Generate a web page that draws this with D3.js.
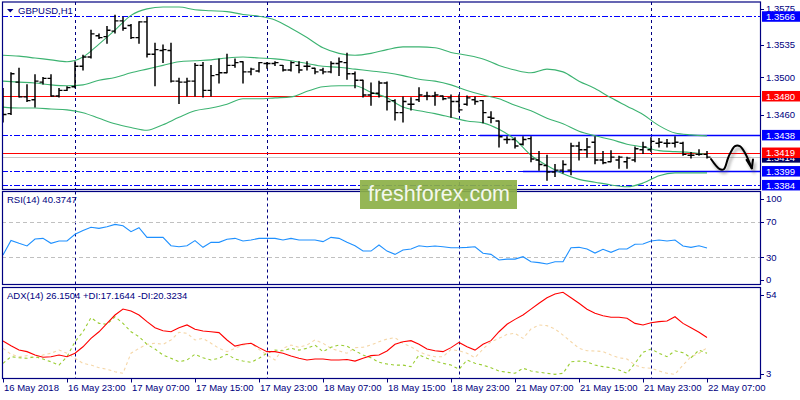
<!DOCTYPE html>
<html>
<head>
<meta charset="utf-8">
<script src="https://cdn.jsdelivr.net/npm/d3@7"></script>
<style>
  body { margin: 0; background: #fff; }
  svg { display: block; }
</style>
</head>
<body>
<div id="chart"></div>
<script>
// ---- data ----
let symbolTitle = "GBPUSD,H1";

let open = [1.3470,1.3461,1.3495,1.3479,1.3476,1.3495,1.3499,1.3480,1.3486,1.3490,
  1.3512,1.3522,1.3545,1.3544,1.3550,1.3561,1.3556,1.3543,1.3560,1.3525,
  1.3529,1.3529,1.3496,1.3495,1.3496,1.3513,1.3486,1.3503,1.3505,1.3513,
  1.3517,1.3506,1.3507,1.3515,1.3515,1.3513,1.3508,1.3513,1.3512,1.3510,
  1.3508,1.3506,1.3515,1.3516,1.3504,1.3497,1.3481,1.3483,1.3494,1.3475,
  1.3462,1.3471,1.3476,1.3480,1.3480,1.3480,1.3478,1.3474,1.3471,1.3476,
  1.3475,1.3457,1.3453,1.3433,1.3433,1.3428,1.3434,1.3411,1.3405,1.3398,
  1.3400,1.3400,1.3426,1.3422,1.3430,1.3411,1.3409,1.3411,1.3409,1.3411,
  1.3422,1.3422,1.3429,1.3429,1.3429,1.3429,1.3416,1.3417,1.3417];
let high = [1.3488,1.3505,1.3510,1.3492,1.3503,1.3500,1.3503,1.3488,1.3490,1.3517,
  1.3524,1.3551,1.3547,1.3555,1.3567,1.3565,1.3557,1.3560,1.3565,1.3537,
  1.3535,1.3537,1.3499,1.3499,1.3515,1.3516,1.3513,1.3520,1.3525,1.3520,
  1.3517,1.3510,1.3516,1.3516,1.3517,1.3513,1.3517,1.3517,1.3517,1.3510,
  1.3510,1.3517,1.3521,1.3526,1.3506,1.3497,1.3494,1.3496,1.3495,1.3476,
  1.3479,1.3478,1.3489,1.3484,1.3484,1.3480,1.3481,1.3481,1.3480,1.3479,
  1.3475,1.3463,1.3453,1.3436,1.3435,1.3436,1.3436,1.3420,1.3416,1.3406,
  1.3410,1.3429,1.3430,1.3434,1.3436,1.3420,1.3421,1.3415,1.3414,1.3425,
  1.3430,1.3435,1.3434,1.3433,1.3436,1.3430,1.3419,1.3422,1.3420];
let low = [1.3452,1.3460,1.3479,1.3474,1.3468,1.3493,1.3480,1.3479,1.3486,1.3489,
  1.3508,1.3521,1.3542,1.3537,1.3548,1.3551,1.3542,1.3537,1.3522,1.3491,
  1.3516,1.3495,1.3472,1.3480,1.3480,1.3479,1.3480,1.3494,1.3505,1.3511,
  1.3494,1.3503,1.3506,1.3510,1.3513,1.3507,1.3507,1.3505,1.3508,1.3504,
  1.3504,1.3505,1.3502,1.3498,1.3489,1.3479,1.3470,1.3479,1.3465,1.3454,
  1.3452,1.3465,1.3474,1.3476,1.3470,1.3476,1.3457,1.3463,1.3470,1.3471,
  1.3451,1.3451,1.3425,1.3429,1.3424,1.3427,1.3409,1.3400,1.3389,1.3393,
  1.3397,1.3395,1.3411,1.3414,1.3407,1.3407,1.3409,1.3402,1.3402,1.3409,
  1.3418,1.3420,1.3425,1.3425,1.3425,1.3416,1.3413,1.3416,1.3413];
let close = [1.3460,1.3504,1.3479,1.3475,1.3496,1.3499,1.3480,1.3486,1.3489,1.3512,
  1.3522,1.3547,1.3543,1.3551,1.3561,1.3553,1.3543,1.3560,1.3525,1.3530,
  1.3530,1.3496,1.3495,1.3496,1.3513,1.3486,1.3502,1.3505,1.3513,1.3516,
  1.3506,1.3509,1.3516,1.3515,1.3516,1.3508,1.3516,1.3508,1.3512,1.3506,
  1.3506,1.3515,1.3517,1.3504,1.3497,1.3481,1.3483,1.3494,1.3474,1.3462,
  1.3474,1.3471,1.3481,1.3480,1.3481,1.3477,1.3474,1.3465,1.3478,1.3474,
  1.3462,1.3456,1.3436,1.3433,1.3426,1.3433,1.3412,1.3406,1.3398,1.3400,
  1.3406,1.3426,1.3422,1.3425,1.3411,1.3408,1.3414,1.3414,1.3413,1.3423,
  1.3425,1.3431,1.3430,1.3429,1.3430,1.3417,1.3416,1.3417,1.3414];

// Bollinger bands, read every second bar
let bandStep = 2;
let bbUpper = [1.3524,1.3523,1.3521,1.3519,1.3517,1.3522,1.3536,1.3551,1.3567,1.3574,
  1.3576,1.3576,1.3573,1.3572,1.3571,1.3568,1.3566,1.3562,1.3553,1.3543,
  1.3532,1.3526,1.3524,1.3526,1.3530,1.3533,1.3533,1.3532,1.3527,1.3524,
  1.3520,1.3513,1.3508,1.3505,1.3509,1.3506,1.3496,1.3488,1.3478,1.3469,
  1.3460,1.3448,1.3440,1.3438,1.3437];
let bbMiddle = [1.3496,1.3495,1.3494,1.3492,1.3491,1.3492,1.3497,1.3500,1.3505,1.3509,
  1.3513,1.3517,1.3518,1.3519,1.3521,1.3522,1.3521,1.3520,1.3518,1.3515,
  1.3512,1.3511,1.3509,1.3507,1.3505,1.3502,1.3498,1.3496,1.3492,1.3486,
  1.3481,1.3477,1.3470,1.3464,1.3456,1.3450,1.3442,1.3437,1.3433,1.3428,
  1.3425,1.3421,1.3420,1.3419,1.3417];
let bbLower = [1.3468,1.3467,1.3467,1.3466,1.3465,1.3462,1.3456,1.3450,1.3446,1.3443,
  1.3449,1.3457,1.3464,1.3467,1.3471,1.3477,1.3477,1.3478,1.3479,1.3485,
  1.3490,1.3491,1.3491,1.3484,1.3478,1.3468,1.3464,1.3461,1.3457,1.3453,
  1.3451,1.3444,1.3433,1.3416,1.3405,1.3396,1.3390,1.3387,1.3384,1.3382,
  1.3386,1.3394,1.3397,1.3397,1.3397];

let rsi = [32.6,49,45.7,42.7,50.6,51.3,45.7,48.3,48.3,55.8,
  60,63.7,62.5,64.4,67,65.5,58.8,63.3,52.4,52.4,
  52.4,43,41.9,43,48.7,41.2,46.8,46.8,50.2,51.3,
  48.3,49.4,51.3,51.3,51.3,49.4,51.3,49.4,49.4,49.4,
  47.6,52.4,51.3,46.8,43,37,37,43.8,37,33.3,
  38.2,39.3,43,41.9,42.7,41.9,40.8,40.8,41.2,41.9,
  34.5,33.3,27,28,28,30.7,25,24,22.5,25,
  25,40.8,41.2,39.3,34.8,39,35.6,39.3,39.3,44.6,
  44.9,48.3,49.4,48.3,49.4,42.7,41.2,43,40.4];
let adx = [24.2,21.5,19,18.1,16.2,14.9,15.2,16.2,15.2,17.2,
  20.9,25.7,29.5,34.3,39.1,42.5,41.4,39.1,35.3,31.8,
  30.1,29.5,31.8,33.4,30.9,29.9,29.5,29,24.8,21.3,
  22.3,22.9,20.4,18.1,18.1,17.2,15.6,14.3,13.3,13.9,
  13.9,13.3,13.3,13.6,12.7,14.3,15.8,16.2,18.5,22.3,
  23.8,24.4,22.3,19.6,18.6,18.1,20.4,23.4,20.9,19,
  22.3,24.4,29.5,33.8,36.6,39.1,42.5,45.8,49,51.1,
  52.1,49,45.8,42.4,40.1,38.7,37.8,37.8,37.2,34.3,
  33.4,34.7,35.3,35.7,38.1,34.3,31.8,29.2,26.2];
let plusDI = [11.4,15.2,14.6,14.3,15.2,13.9,12.3,10.4,15.2,23.8,
  29.5,37.6,34.3,33.8,38.1,34.3,29.5,26.7,22.3,19.6,
  16.2,14.3,12.3,13.3,16.6,14.6,13.3,14.3,16.6,13.9,
  12.7,12,14.3,17.2,19,18.6,20,19,20,21.9,
  18.1,20.6,21.9,21.3,18.6,16.2,14.6,12,11,10.4,
  10.4,9.5,16.2,14.3,12.7,11.4,10.4,8,13.3,11.4,
  10.4,8.9,7,6.3,5.7,8.6,7,6.3,5.7,5.1,
  5.7,12.3,12.7,12.3,10.4,9.5,8.9,7.6,5.7,11.4,
  17.7,19.6,17.2,15.2,18.6,17.5,14.6,19,17.2];
let minusDI = [20,16.6,15.2,15.8,14.3,16.2,17.2,19,17.2,14.3,
  11.4,10.4,8.9,8,6.6,5.7,17.2,20,22.3,22.9,
  22.3,24.8,29.2,28.6,24.8,25.7,22.9,20,18.1,20,
  21.9,22.9,19.4,16.2,13.3,20,21.9,20.6,21.9,24.8,
  22.9,20,18.5,17.2,20.4,20.6,21.9,23.8,25.3,26.1,
  22.9,20.9,18.1,16.2,15.2,15.2,19.4,18.6,17.2,14.6,
  19.6,23.8,25.7,28,28.6,25.7,31.1,33.4,33,31.1,
  27.6,23.8,20,18.6,18.5,18.1,16.2,14.6,13.9,10.4,
  8.9,8.6,7,5.7,5.1,10.4,15.2,17.2,20.3];

let rsiLast = "40.3747", adxLast = "26.1504", pdiLast = "17.1644", mdiLast = "20.3234";

// time axis: a label every 8 bars, day separators at midnight bars
let labelStep = 8;
let timeLabels = ["16 May 2018","16 May 23:00","17 May 07:00","17 May 15:00","17 May 23:00",
  "18 May 07:00","18 May 15:00","18 May 23:00","21 May 07:00","21 May 15:00",
  "21 May 23:00","22 May 07:00"];
let daySeparators = [9, 33, 57, 81];

let priceTicks = [1.3575, 1.3535, 1.3500, 1.3460];
let blueLevels = [1.3566, 1.3438, 1.3399, 1.3384];
let redLevels = [1.3480, 1.3419];
let bidPrice = 1.3414;
// solid support / resistance segments: [price, starting bar]
let zoneLines = [[1.3438, 59.6], [1.3399, 65]];
let rsiLevels = [70, 30];
let rsiTicks = [100, 70, 30, 0];
let adxTicks = [54, 3];
// hand drawn forecast arrow, in (bar, price)
let arrowBars = [88.5, 89.6, 90.1, 90.7, 91.5, 92.1, 92.75, 93.6];
let arrowPrices = [1.3412, 1.3401, 1.3401, 1.34145, 1.3426, 1.3426, 1.34185, 1.3402];
let arrowHeadBars = [92.95, 93.6, 93.75];
let arrowHeadPrices = [1.3411, 1.3402, 1.34115];

// ---- layout ----
let width = 800, height = 400;
let left = 2, right = 760.5;
let navy = "#000080";
let fontFam = '"Liberation Sans", Arial, sans-serif';
let panels = {
  main: {top: 2, bottom: 189.5},
  rsi: {top: 191.5, bottom: 284.5},
  adx: {top: 287.5, bottom: 378.5}
};

let svg = d3.select("#chart").append("svg")
  .attr("width", width)
  .attr("height", height)
  .style("font-family", fontFam);

let xScale = d3.scaleLinear().domain([0, open.length - 1]).range([3, 707]);
let yMain = d3.scaleLinear().domain([1.33791, 1.35814]).range([189.5, 2]);
let yRsi = d3.scaleLinear().domain([0, 100]).range([284, 195]);
let yAdx = d3.scaleLinear().domain([3, 54]).range([378, 289]);

let defs = svg.append("defs");
let blur = defs.append("filter").attr("id", "blur")
  .attr("x", "-10%").attr("y", "-50%").attr("width", "120%").attr("height", "200%");
blur.append("feGaussianBlur").attr("stdDeviation", 1.6);

Object.keys(panels).forEach(function(k) {
  let p = panels[k];
  defs.append("clipPath").attr("id", "clip_" + k)
    .append("rect")
    .attr("x", left).attr("y", p.top)
    .attr("width", right - left).attr("height", p.bottom - p.top);
});

// day separators run through every panel
Object.keys(panels).forEach(function(k) {
  let p = panels[k];
  svg.append("g").selectAll("line")
    .data(daySeparators)
    .enter()
    .append("line")
    .attr("x1", d => Math.round(xScale(d)) + 0.5)
    .attr("x2", d => Math.round(xScale(d)) + 0.5)
    .attr("y1", p.top)
    .attr("y2", p.bottom)
    .attr("stroke", navy)
    .attr("stroke-dasharray", "3,3");
});

// ---- main panel ----
let main = svg.append("g").attr("clip-path", "url(#clip_main)");

main.append("line")
  .attr("x1", left).attr("x2", right)
  .attr("y1", Math.round(yMain(bidPrice)) + 0.5)
  .attr("y2", Math.round(yMain(bidPrice)) + 0.5)
  .attr("stroke", "#c8c8c8");

main.append("g").selectAll("line")
  .data(blueLevels)
  .enter()
  .append("line")
  .attr("x1", left).attr("x2", right)
  .attr("y1", d => Math.round(yMain(d)) + 0.5)
  .attr("y2", d => Math.round(yMain(d)) + 0.5)
  .attr("stroke", "#0000ff")
  .attr("stroke-dasharray", "6,2,2,2");

// shadows under the solid zone lines
main.append("g").selectAll("line")
  .data(zoneLines)
  .enter()
  .append("line")
  .attr("x1", d => xScale(d[1]) + 2)
  .attr("x2", right)
  .attr("y1", d => yMain(d[0]) + 3)
  .attr("y2", d => yMain(d[0]) + 3)
  .attr("stroke", "#777")
  .attr("stroke-width", 3)
  .attr("opacity", 0.55)
  .attr("filter", "url(#blur)");

main.append("g").selectAll("line")
  .data(zoneLines)
  .enter()
  .append("line")
  .attr("x1", d => xScale(d[1]))
  .attr("x2", right)
  .attr("y1", d => Math.round(yMain(d[0])) + 0.5)
  .attr("y2", d => Math.round(yMain(d[0])) + 0.5)
  .attr("stroke", "#0000ff")
  .attr("stroke-width", 1.3);

main.append("g").selectAll("line")
  .data(redLevels)
  .enter()
  .append("line")
  .attr("x1", left).attr("x2", right)
  .attr("y1", d => Math.round(yMain(d)) + 0.5)
  .attr("y2", d => Math.round(yMain(d)) + 0.5)
  .attr("stroke", "#ff0000");

// Bollinger bands
let bandLine = d3.line()
  .x((d, k) => xScale(k * bandStep))
  .y(d => yMain(d))
  .curve(d3.curveMonotoneX);

[bbUpper, bbMiddle, bbLower].forEach(function(band) {
  main.append("path")
    .attr("d", bandLine(band))
    .attr("fill", "none")
    .attr("stroke", "#3cb371")
    .attr("stroke-width", 1.1);
});

// OHLC bars
let bars = main.append("g").selectAll(".bar")
  .data(d3.range(open.length))
  .enter()
  .append("g")
  .attr("class", "bar");

bars.append("line")
  .attr("x1", i => xScale(i)).attr("x2", i => xScale(i))
  .attr("y1", i => yMain(high[i]) - 0.5)
  .attr("y2", i => yMain(low[i]) + 0.5)
  .attr("stroke", "#000").attr("stroke-width", 1.5);
bars.append("line")
  .attr("x1", i => xScale(i) - 3.5).attr("x2", i => xScale(i))
  .attr("y1", i => yMain(open[i])).attr("y2", i => yMain(open[i]))
  .attr("stroke", "#000").attr("stroke-width", 1.4);
bars.append("line")
  .attr("x1", i => xScale(i)).attr("x2", i => xScale(i) + 3.5)
  .attr("y1", i => yMain(close[i])).attr("y2", i => yMain(close[i]))
  .attr("stroke", "#000").attr("stroke-width", 1.4);

// forecast arrow
let arrowLine = d3.line()
  .x(d => xScale(d[0]))
  .y(d => yMain(d[1]))
  .curve(d3.curveCatmullRom);
let arrowPts = arrowBars.map((b, k) => [b, arrowPrices[k]]);
let headPts = arrowHeadBars.map((b, k) => [b, arrowHeadPrices[k]]);
let straight = d3.line().x(d => xScale(d[0])).y(d => yMain(d[1]));

let arrowG = svg.append("g");
arrowG.append("g")
  .attr("transform", "translate(2,3)")
  .attr("filter", "url(#blur)")
  .attr("opacity", 0.45)
  .call(function(g) {
    g.append("path").attr("d", arrowLine(arrowPts)).attr("fill", "none").attr("stroke", "#555").attr("stroke-width", 2.5);
    g.append("path").attr("d", straight(headPts)).attr("fill", "none").attr("stroke", "#555").attr("stroke-width", 2.5);
  });
arrowG.append("path")
  .attr("d", arrowLine(arrowPts))
  .attr("fill", "none").attr("stroke", "#000").attr("stroke-width", 2)
  .attr("stroke-linecap", "round");
arrowG.append("path")
  .attr("d", straight(headPts))
  .attr("fill", "none").attr("stroke", "#000").attr("stroke-width", 2)
  .attr("stroke-linecap", "round").attr("stroke-linejoin", "round");

// ---- RSI panel ----
let rsiG = svg.append("g").attr("clip-path", "url(#clip_rsi)");
rsiG.selectAll(".lvl")
  .data(rsiLevels)
  .enter()
  .append("line")
  .attr("x1", left).attr("x2", right)
  .attr("y1", d => Math.round(yRsi(d)) + 0.5)
  .attr("y2", d => Math.round(yRsi(d)) + 0.5)
  .attr("stroke", "#c0c0c0")
  .attr("stroke-dasharray", "4,3");

rsiG.append("path")
  .attr("d", d3.line().x((d, i) => xScale(i)).y(d => yRsi(d))(rsi))
  .attr("fill", "none")
  .attr("stroke", "#1e90ff")
  .attr("stroke-width", 1.1);

// ---- ADX panel ----
let adxG = svg.append("g").attr("clip-path", "url(#clip_adx)");
let adxLine = d3.line().x((d, i) => xScale(i)).y(d => yAdx(d));
adxG.append("path").attr("d", adxLine(minusDI))
  .attr("fill", "none").attr("stroke", "#f5d7a8").attr("stroke-width", 1.1)
  .attr("stroke-dasharray", "3,3");
adxG.append("path").attr("d", adxLine(plusDI))
  .attr("fill", "none").attr("stroke", "#9acd32").attr("stroke-width", 1.1)
  .attr("stroke-dasharray", "3,3");
adxG.append("path").attr("d", adxLine(adx))
  .attr("fill", "none").attr("stroke", "#ff0000").attr("stroke-width", 1.1);

// ---- panel frames ----
Object.keys(panels).forEach(function(k) {
  let p = panels[k];
  svg.append("rect")
    .attr("x", left + 0.5).attr("y", p.top)
    .attr("width", right - left - 0.5).attr("height", p.bottom - p.top)
    .attr("fill", "none")
    .attr("stroke", navy)
    .attr("stroke-width", 1.2);
});

// ---- watermark ----
let wm = svg.append("g");
wm.append("rect")
  .attr("x", 360).attr("y", 180)
  .attr("width", 157).attr("height", 29)
  .attr("fill", "#8cb046")
  .attr("opacity", 0.92);
wm.append("text")
  .attr("x", 368).attr("y", 201)
  .attr("textLength", 142)
  .attr("lengthAdjust", "spacingAndGlyphs")
  .style("font-size", "21.5px")
  .style("fill", "#f4f8ee")
  .text("freshforex.com");

// ---- labels ----
svg.append("path")
  .attr("d", "M7,9 L13.5,9 L10.25,12.5 Z")
  .attr("fill", navy);
svg.append("text")
  .attr("x", 18).attr("y", 14)
  .style("font-size", "9.5px").style("fill", navy)
  .text(symbolTitle);
svg.append("text")
  .attr("x", 7).attr("y", 203)
  .style("font-size", "9.5px").style("fill", navy)
  .text("RSI(14) " + rsiLast);
svg.append("text")
  .attr("x", 7).attr("y", 299)
  .style("font-size", "9.5px").style("fill", navy)
  .text("ADX(14) " + adxLast + " +DI:" + pdiLast + " -DI:" + mdiLast);

// right axis: price
let axisG = svg.append("g");
function rightTicks(values, scale, fmt, top, bottom) {
  values.forEach(function(v) {
    let y = scale(v);
    let ty = Math.max(top + 7, Math.min(bottom - 5, y));
    axisG.append("line")
      .attr("x1", right).attr("x2", right + 3.5)
      .attr("y1", Math.round(ty) + 0.5).attr("y2", Math.round(ty) + 0.5)
      .attr("stroke", navy);
    axisG.append("text")
      .attr("x", right + 5.5).attr("y", ty)
      .attr("dy", "0.35em")
      .style("font-size", "9.5px").style("fill", navy)
      .text(fmt(v));
  });
}
rightTicks(priceTicks, yMain, d3.format(".4f"), panels.main.top, panels.main.bottom);
rightTicks(rsiTicks, yRsi, String, panels.rsi.top, panels.rsi.bottom);
rightTicks(adxTicks, yAdx, String, panels.adx.top, panels.adx.bottom);

// price boxes on the axis
function priceBox(v, fill) {
  let y = yMain(v);
  axisG.append("rect")
    .attr("x", right + 1.5).attr("y", y - 5)
    .attr("width", width - right - 1.5).attr("height", 10.5)
    .attr("fill", fill);
  axisG.append("text")
    .attr("x", right + 5.5).attr("y", y + 0.3)
    .attr("dy", "0.35em")
    .style("font-size", "9.5px").style("fill", "#fff")
    .text(d3.format(".4f")(v));
}
priceBox(bidPrice, "#000060");
redLevels.forEach(v => priceBox(v, "#ff0000"));
blueLevels.forEach(v => priceBox(v, "#0000ff"));

// bottom time axis
let timeG = svg.append("g");
timeLabels.forEach(function(t, k) {
  let x = Math.round(xScale(k * labelStep)) + 0.5;
  timeG.append("line")
    .attr("x1", x).attr("x2", x)
    .attr("y1", panels.adx.bottom).attr("y2", panels.adx.bottom + 4)
    .attr("stroke", navy);
  timeG.append("text")
    .attr("x", x + 0.5).attr("y", 391)
    .style("font-size", "9.5px").style("fill", navy)
    .text(t);
});
</script>
</body>
</html>
